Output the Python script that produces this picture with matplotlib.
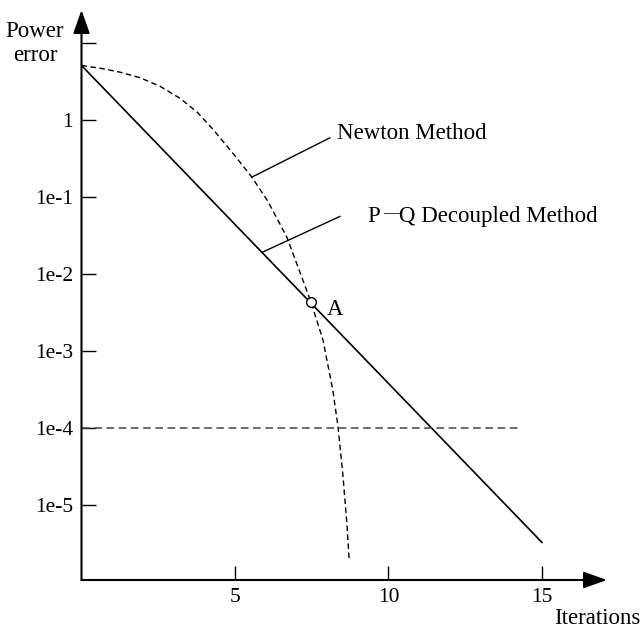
import matplotlib.pyplot as plt

plt.rcParams['font.family'] = ['Liberation Serif', 'DejaVu Serif']

# P-Q decoupled method: straight line on the log scale
pq_iter = [0, 15]
pq_err = [5.13, 3.3e-6]

# Newton method:
newton_iter = [0, 0.60, 1.25, 1.91, 2.56, 3.21, 3.76, 4.28, 4.93, 5.55, 6.07, 6.69,
               7.48, 7.87, 8.19, 8.36, 8.51, 8.645, 8.72]
newton_err = [5.13, 4.73, 4.20, 3.55, 2.75, 1.92, 1.28, 0.764, 0.372, 0.182, 0.0887, 0.0303,
              4.33e-3, 1.38e-3, 3.09e-4, 1.02e-4, 2.63e-5, 5.89e-6, 1.95e-6]

tol = 1e-4
tol_end = 14.35
point_a = (7.48, 4.33e-3)

yticks = [10, 1, 1e-1, 1e-2, 1e-3, 1e-4, 1e-5]
ylabels = ['', '1', '1e-1', '1e-2', '1e-3', '1e-4', '1e-5']
xticks = [5, 10, 15]

FS = 16.5

fig = plt.figure(figsize=(6.44, 6.31), dpi=100)
ax = fig.add_axes([81.5/644, 51/631, 525.5/644, 570/631])

ax.semilogy(pq_iter, pq_err, color='black', lw=1.2)
ax.semilogy(newton_iter, newton_err, color='black', lw=1.0, linestyle=(0, (4, 2.5)))
ax.plot([0, tol_end], [tol, tol], color='#444444', lw=1.1, linestyle=(0, (5, 3)))
ax.plot(*point_a, 'o', ms=7, mfc='white', mec='black', mew=1.0, zorder=5)
ax.text(point_a[0] + 0.5, point_a[1] * 0.8, 'A', fontsize=FS, va='center', ha='left')

# leader lines
ax.plot([newton_iter[9], 8.09], [newton_err[9], 10**-0.23], color='black', lw=1.0)
ax.plot([5.88, 8.42], [10**(0.71 - 0.4127*5.88), 10**-1.25], color='black', lw=1.0)
ax.text(8.32, 10**-0.17, 'Newton Method', fontsize=FS, va='center', ha='left')

# "P—Q Decoupled Method" with a raised short dash
pq_anchor = (9.30, 10**-1.325)
ax.annotate('P', xy=pq_anchor, xytext=(0, 0), textcoords='offset points',
            fontsize=FS, va='baseline', ha='left')
ax.annotate('\u2014', xy=pq_anchor, xytext=(11.5, 4.0), textcoords='offset points',
            fontsize=12, va='baseline', ha='left')
ax.annotate('Q Decoupled Method', xy=pq_anchor, xytext=(23.0, 0), textcoords='offset points',
            fontsize=FS, va='baseline', ha='left')

ax.set_xlim(0, 17.12)
ax.set_ylim(10**-5.97, 10**1.43)
ax.set_yticks(yticks)
ax.set_yticklabels(ylabels)
ax.set_xticks(xticks)
ax.minorticks_off()
ax.tick_params(axis='both', direction='in', length=10, width=1.0, labelsize=15.5, pad=6)

for s in ax.spines.values():
    s.set_visible(False)
arrow = dict(arrowstyle='-|>,head_length=0.65,head_width=0.23', mutation_scale=22,
             lw=1.5, color='black', shrinkA=0, shrinkB=0)
ax.annotate('', xy=(1, 0), xytext=(0, 0), xycoords='axes fraction', arrowprops=arrow)
ax.annotate('', xy=(0, 1), xytext=(0, 0), xycoords='axes fraction', arrowprops=arrow)

fig.text(35/644, 1 - 43.5/631, 'Power\nerror', fontsize=FS, ha='center', va='center', linespacing=1.15)
fig.text(641/644, 1 - 618/631, 'Iterations', fontsize=FS, ha='right', va='center')

fig.savefig('out.png', dpi=100)
